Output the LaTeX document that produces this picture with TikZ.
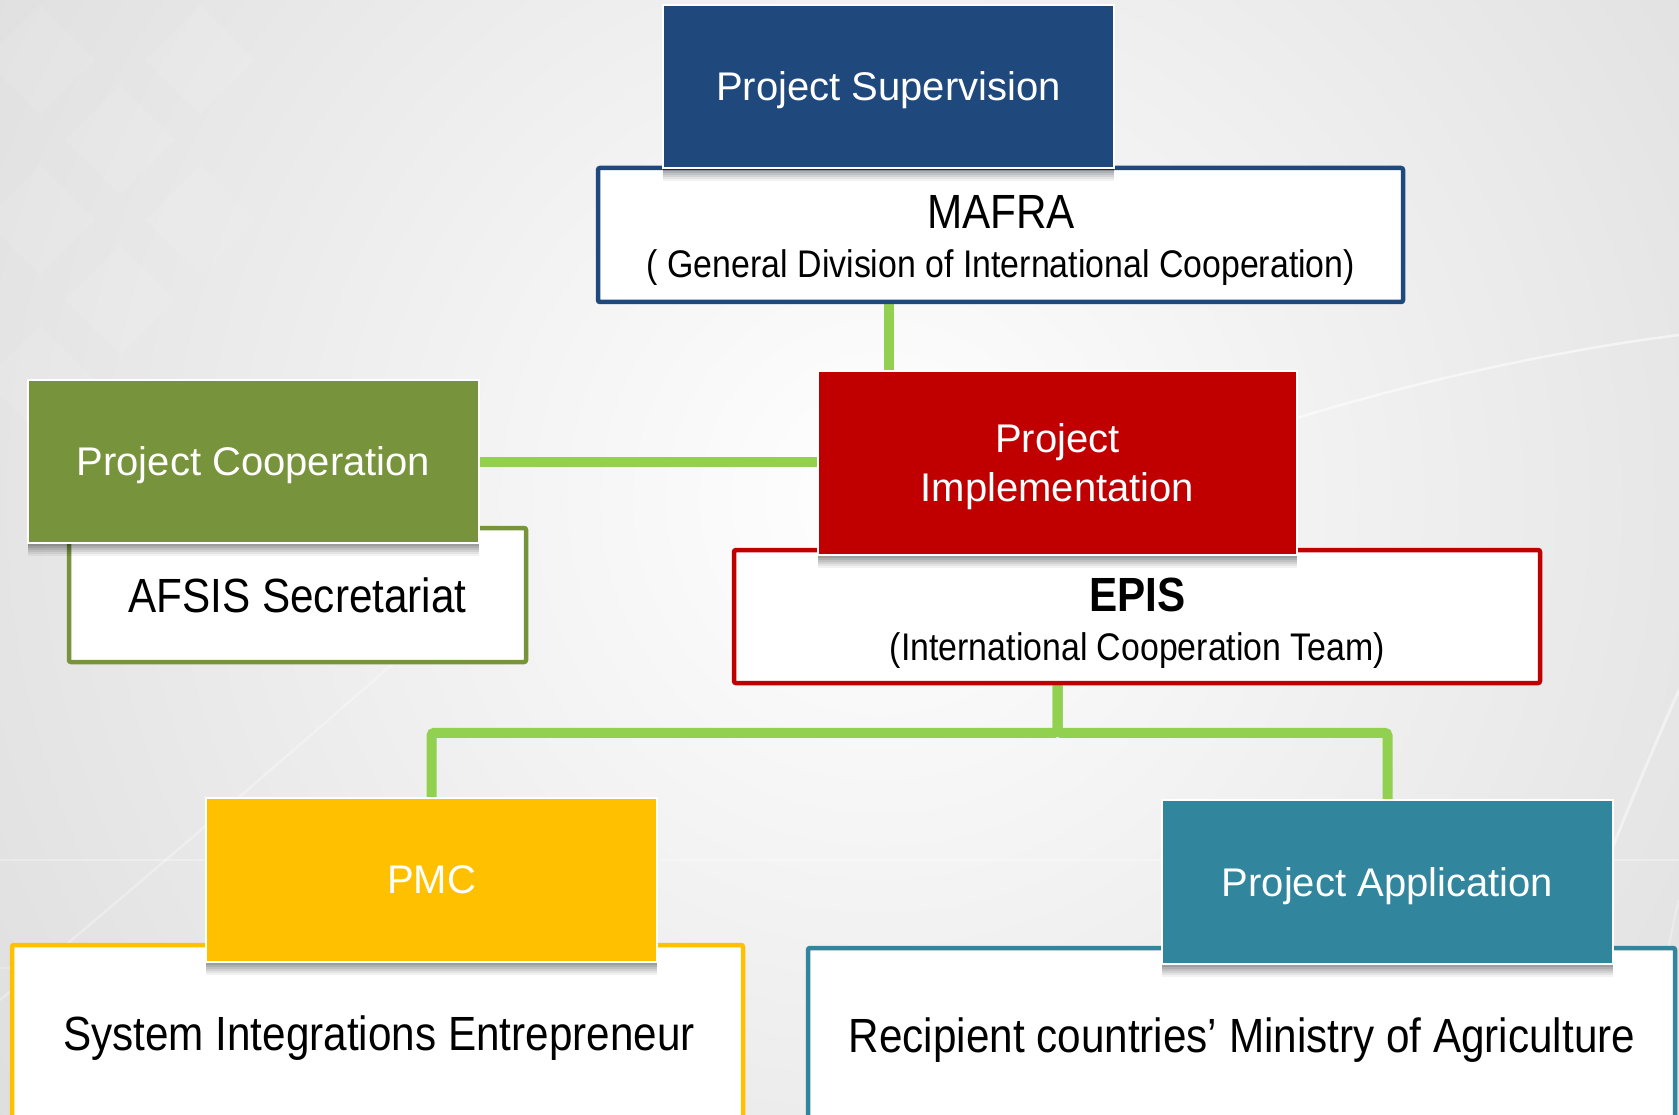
\documentclass[tikz,border=0pt]{standalone}
\usepackage{fontspec}
\setmainfont{Liberation Sans}
\newfontfamily\narrowfont[FakeStretch=0.88]{Liberation Sans}
\definecolor{psblue}{RGB}{31,73,125}
\definecolor{pcgreen}{RGB}{119,147,60}
\definecolor{pired}{RGB}{192,0,0}
\definecolor{pmcyellow}{RGB}{255,192,0}
\definecolor{pateal}{RGB}{49,133,156}
\definecolor{linkgreen}{RGB}{146,208,80}
\pgfdeclarelayer{bglayer}
\pgfdeclarelayer{linklayer}
\pgfsetlayers{bglayer,linklayer,main}
\begin{document}
\begin{tikzpicture}[x=1pt,y=-1pt,
  shadowbit/.style={draw=none, fill=black, fill opacity=#1},
  colbox/.style={rectangle, draw=white, line width=2.5pt, text=white,
    font=\fontsize{40}{49}\selectfont, align=center, inner sep=0pt, text depth=0pt,
    preaction={shadowbit=0.05, transform canvas={yshift=-13pt}},
    preaction={shadowbit=0.06, transform canvas={yshift=-11pt}},
    preaction={shadowbit=0.07, transform canvas={yshift=-9pt}},
    preaction={shadowbit=0.08, transform canvas={yshift=-7pt}},
    preaction={shadowbit=0.09, transform canvas={yshift=-5pt}},
    preaction={shadowbit=0.10, transform canvas={yshift=-3pt}}},
  whitebox/.style={rectangle, draw=#1, line width=4.5pt, fill=white, rounded corners=2pt, inner sep=0pt},
  bigtxt/.style={font=\narrowfont\fontsize{48}{52}\selectfont, anchor=base, inner sep=0pt, text=black},
  smalltxt/.style={font=\narrowfont\fontsize{38.5}{42}\selectfont, anchor=base, inner sep=0pt, text=black},
  link/.style={draw=linkgreen, line width=10pt, rounded corners=3pt}
]
\useasboundingbox (0,0) rectangle (1679,1115);

\begin{pgfonlayer}{bglayer}
  \fill[black!22] (0,0) rectangle (1679,1115);
  \shade[inner color=white, outer color=black!22] (880,500) circle (1850);
  % faint diamonds top-left
  \foreach \cx/\cy in {40/60, 120/140, 40/220, 200/60, 120/300, 40/380, 200/220} {
    \fill[white, opacity=0.09] (\cx,\cy-55) -- (\cx+55,\cy) -- (\cx,\cy+55) -- (\cx-55,\cy) -- cycle;
  }
  % light streaks
  \draw[white, opacity=0.55, line width=2.5pt] (1290,420) .. controls (1420,380) and (1560,350) .. (1679,335);
  \draw[white, opacity=0.45, line width=3pt] (1510,1115) .. controls (1570,950) and (1630,800) .. (1679,690);
  \draw[white, opacity=0.3, line width=2pt] (1640,1115) .. controls (1660,1000) and (1670,930) .. (1679,900);
  \draw[white, opacity=0.3, line width=2.5pt] (0,1000) .. controls (120,900) and (260,780) .. (420,640);
  \draw[white, opacity=0.3, line width=2pt] (0,860) -- (1679,860);
  \draw[white, opacity=0.25, line width=2pt] (0,968) -- (200,968);
\end{pgfonlayer}

% white boxes
\node[whitebox=psblue, minimum width=805pt, minimum height=134pt] (mafra) at (1000.5,235) {};
\node[whitebox=pcgreen, minimum width=457pt, minimum height=134pt] (afsis) at (297.5,595) {};
\node[whitebox=pired, minimum width=806pt, minimum height=133pt] (epis) at (1137,616.5) {};
\node[whitebox=pmcyellow, minimum width=731pt, minimum height=260pt] (sie) at (377.5,1075) {};
\node[whitebox=pateal, minimum width=867pt, minimum height=260pt] (rcma) at (1241.5,1078) {};

% texts of white boxes
\node[bigtxt] (mafraT) at (1001,229) {MAFRA};
\node[smalltxt] (mafraS) at (1001,278) {( General Division of International Cooperation)};
\node[bigtxt] (afsisT) at (297.5,612) {AFSIS Secretariat};
\node[bigtxt] (episT) at (1137.5,611) {\bfseries EPIS};
\node[smalltxt] (episS) at (1137.5,660) {(International Cooperation Team)};
\node[bigtxt] (sieT) at (379,1050) {System Integrations Entrepreneur};
\node[bigtxt] (rcmaT) at (1242,1052) {Recipient countries’ Ministry of Agriculture};

% coloured boxes
\node[colbox, fill=psblue, minimum width=451pt, minimum height=163pt] (ps) at (888.5,86.5) {Project Supervision};
\node[colbox, fill=pcgreen, minimum width=451pt, minimum height=163pt] (pc) at (253.5,461.5) {Project Cooperation};
\node[colbox, fill=pired, minimum width=479pt, minimum height=184pt] (pi) at (1057.5,463) {Project\\Implementation};
\node[colbox, fill=pmcyellow, minimum width=451pt, minimum height=164pt] (pmc) at (431.5,880) {PMC};
\node[colbox, fill=pateal, minimum width=451pt, minimum height=164pt] (pa) at (1387.5,882) {Project Application};

% connectors
\begin{pgfonlayer}{linklayer}
  \draw[link] (ps |- mafra.south) -- (ps |- pi.north);
  \draw[link] (pc.east) -- (pc.east -| pi.west);
  \draw[link] (pi |- epis.south) -- ++(0,47.5) -| (pmc.north);
  \draw[link] (pi |- epis.south) -- ++(0,47.5) -| (pa.north);
\end{pgfonlayer}
\end{tikzpicture}
\end{document}
